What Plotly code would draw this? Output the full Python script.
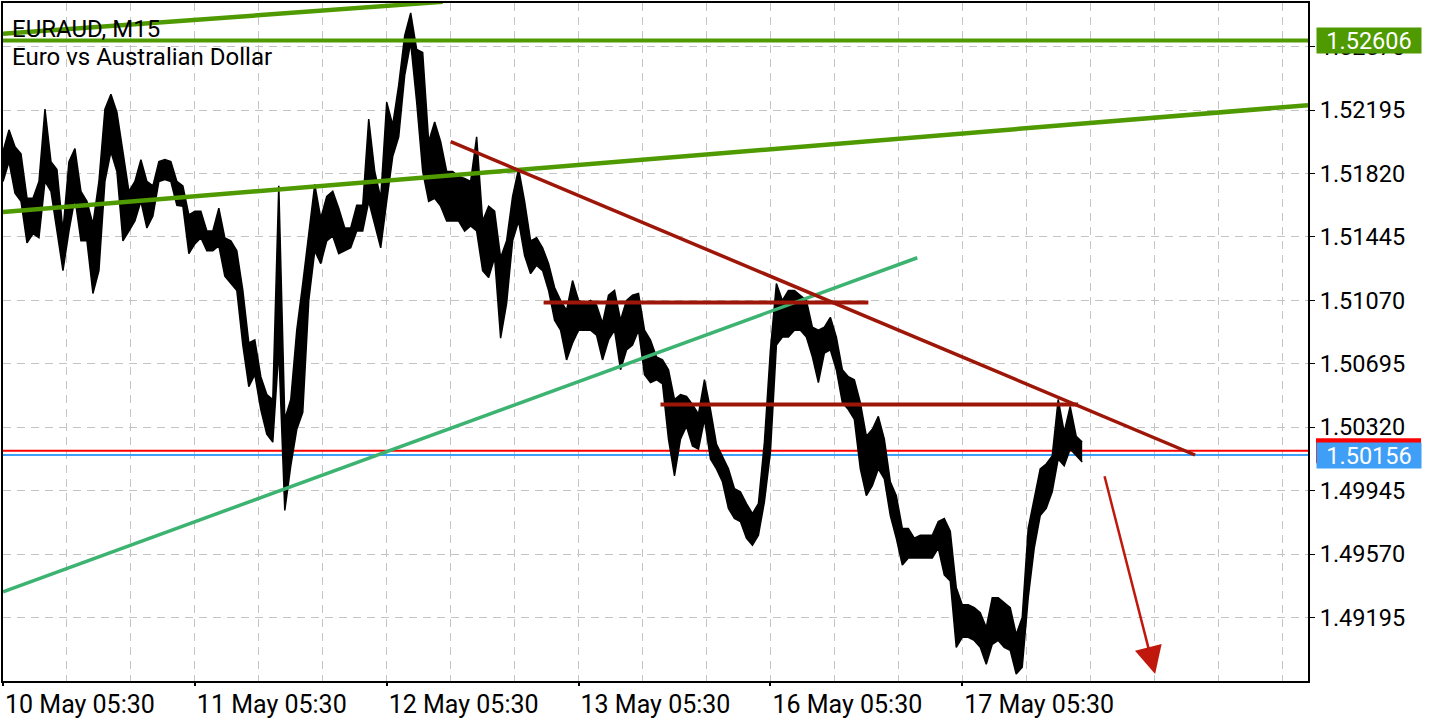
import plotly.graph_objects as go

symbol = "EURAUD, M15"
description = "Euro vs Australian Dollar"

bar_step = 3  # M15 bars per sample
highs = [
    1.51949, 1.52078, 1.51978, 1.51937, 1.51674, 1.51674, 1.51773, 1.52201, 1.51890, 1.51843,
    1.51480, 1.51890, 1.51967, 1.51715, 1.51656, 1.51521, 1.51773, 1.52201, 1.52289, 1.52183,
    1.51949, 1.51715, 1.51773, 1.51902, 1.51773, 1.51747, 1.51890, 1.51902, 1.51890, 1.51773,
    1.51747, 1.51576, 1.51597, 1.51597, 1.51480, 1.51480, 1.51615, 1.51440, 1.51422, 1.51363,
    1.51129, 1.50818, 1.50836, 1.50619, 1.50513, 1.50484, 1.51747, 1.50367, 1.50484, 1.50894,
    1.51170, 1.51468, 1.51756, 1.51556, 1.51685, 1.51715, 1.51615, 1.51498, 1.51498, 1.51632,
    1.51632, 1.52142, 1.51832, 1.51674, 1.52242, 1.52107, 1.52342, 1.52635, 1.52769, 1.52553,
    1.52535, 1.52008, 1.52125, 1.52008, 1.51832, 1.51832, 1.51803, 1.51791, 1.51773, 1.52037,
    1.51539, 1.51627, 1.51597, 1.51322, 1.51422, 1.51685, 1.51849, 1.51656, 1.51422, 1.51440,
    1.51381, 1.51287, 1.51146, 1.51070, 1.51011, 1.51187, 1.51070, 1.51052, 1.51070, 1.51041,
    1.50935, 1.51101, 1.51129, 1.50953, 1.51070, 1.51101, 1.51111, 1.50894, 1.50836, 1.50736,
    1.50718, 1.50660, 1.50484, 1.50513, 1.50502, 1.50455, 1.50397, 1.50601, 1.50425, 1.50220,
    1.50150, 1.50074, 1.49957, 1.49939, 1.49869, 1.49810, 1.49869, 1.50232, 1.50777, 1.51170,
    1.51070, 1.51129, 1.51129, 1.51101, 1.51070, 1.50912, 1.50894, 1.50912, 1.50970, 1.50853,
    1.50660, 1.50619, 1.50601, 1.50466, 1.50267, 1.50308, 1.50384, 1.50250, 1.49998, 1.49916,
    1.49722, 1.49722, 1.49664, 1.49681, 1.49681, 1.49681, 1.49763, 1.49781, 1.49705, 1.49371,
    1.49271, 1.49271, 1.49254, 1.49224, 1.49136, 1.49312, 1.49312, 1.49283, 1.49254, 1.49095,
    1.49195, 1.49722, 1.49898, 1.50074, 1.50103, 1.50150, 1.50484, 1.50291, 1.50443, 1.50267,
    1.50232,
]
lows = [
    1.51773, 1.51890, 1.51703, 1.51656, 1.51410, 1.51464, 1.51440, 1.51773, 1.51715, 1.51480,
    1.51246, 1.51480, 1.51674, 1.51422, 1.51422, 1.51111, 1.51246, 1.51773, 1.51949, 1.51832,
    1.51422, 1.51480, 1.51539, 1.51656, 1.51498, 1.51569, 1.51773, 1.51785, 1.51773, 1.51632,
    1.51627, 1.51346, 1.51404, 1.51440, 1.51363, 1.51363, 1.51393, 1.51213, 1.51170, 1.51129,
    1.50806, 1.50560, 1.50631, 1.50425, 1.50279, 1.50232, 1.50777, 1.49828, 1.50092, 1.50308,
    1.50408, 1.51070, 1.51363, 1.51287, 1.51422, 1.51451, 1.51346, 1.51363, 1.51381, 1.51480,
    1.51480, 1.51656, 1.51521, 1.51381, 1.51656, 1.51920, 1.52037, 1.52400, 1.52594, 1.52242,
    1.51832, 1.51656, 1.51674, 1.51627, 1.51539, 1.51539, 1.51539, 1.51480, 1.51510, 1.51480,
    1.51246, 1.51205, 1.51322, 1.50847, 1.51052, 1.51422, 1.51539, 1.51335, 1.51228, 1.51277,
    1.51246, 1.51129, 1.50953, 1.50894, 1.50718, 1.50818, 1.50894, 1.50894, 1.50894, 1.50865,
    1.50718, 1.50836, 1.50894, 1.50660, 1.50777, 1.50806, 1.50894, 1.50631, 1.50584, 1.50601,
    1.50577, 1.50250, 1.50033, 1.50250, 1.50326, 1.50209, 1.50191, 1.50367, 1.50133, 1.50074,
    1.49998, 1.49840, 1.49781, 1.49763, 1.49664, 1.49623, 1.49681, 1.49880, 1.50173, 1.50806,
    1.50853, 1.50853, 1.50894, 1.50894, 1.50853, 1.50736, 1.50584, 1.50759, 1.50777, 1.50660,
    1.50466, 1.50425, 1.50367, 1.50074, 1.49916, 1.49974, 1.50074, 1.50015, 1.49798, 1.49664,
    1.49505, 1.49547, 1.49547, 1.49547, 1.49547, 1.49547, 1.49605, 1.49447, 1.49412, 1.49019,
    1.49078, 1.49078, 1.49060, 1.49019, 1.48919, 1.49037, 1.49060, 1.49019, 1.49001, 1.48861,
    1.48902, 1.49312, 1.49605, 1.49798, 1.49840, 1.49939, 1.50133, 1.50092, 1.50191, 1.50150,
    1.50115,
]
bars = list(range(0, bar_step * len(highs), bar_step))

date_ticks = [0, 96, 192, 288, 384, 480]
date_labels = ["10 May 05:30", "11 May 05:30", "12 May 05:30",
               "13 May 05:30", "16 May 05:30", "17 May 05:30"]
price_ticks = [1.49195, 1.49570, 1.49945, 1.50320, 1.50695,
               1.51070, 1.51445, 1.51820, 1.52195, 1.52570]

bid = 1.50156
ask = 1.50181
green_level = 1.52606

# user-drawn objects: (bar indices, prices)
channel_main_x, channel_main_y = [0, 653], [1.51592, 1.52224]
channel_top_x, channel_top_y = [0, 220], [1.52646, 1.52835]
support_x, support_y = [0, 457.5], [1.49347, 1.51322]
resist_x, resist_y = [224, 596.5], [1.52008, 1.50156]
level1_x, level1_y = [270.5, 433], [1.51058, 1.51058]
level2_x, level2_y = [329, 538], [1.50455, 1.50455]
arrow_tail = (551, 1.50039)
arrow_head = (576.5, 1.48861)

X_RANGE = [0, 653]
Y_RANGE = [1.48820, 1.52828]

GREEN = "#4e9a00"
SEA = "#3cb371"
DARKRED = "#9e1608"
GRID = "#c4c4c4"
BLUE = "#3f9ef5"
FONT = "Roboto"

fig = go.Figure()

# bid / ask lines (background)
fig.add_trace(go.Scatter(x=X_RANGE, y=[ask, ask], mode="lines",
                         line=dict(color="#ff0000", width=2), hoverinfo="skip"))
fig.add_trace(go.Scatter(x=X_RANGE, y=[bid, bid], mode="lines",
                         line=dict(color=BLUE, width=2), hoverinfo="skip"))

# price series (high/low band)
fig.add_trace(go.Scatter(x=bars, y=lows, mode="lines",
                         line=dict(color="black", width=1.5), hoverinfo="skip"))
fig.add_trace(go.Scatter(x=bars, y=highs, mode="lines", fill="tonexty",
                         fillcolor="black",
                         line=dict(color="black", width=1.5), hoverinfo="skip"))

# drawn lines
fig.add_trace(go.Scatter(x=X_RANGE, y=[green_level, green_level], mode="lines",
                         line=dict(color=GREEN, width=4), hoverinfo="skip"))
fig.add_trace(go.Scatter(x=channel_main_x, y=channel_main_y, mode="lines",
                         line=dict(color=GREEN, width=4.5), hoverinfo="skip"))
fig.add_trace(go.Scatter(x=channel_top_x, y=channel_top_y, mode="lines",
                         line=dict(color=GREEN, width=4.5), hoverinfo="skip"))
fig.add_trace(go.Scatter(x=support_x, y=support_y, mode="lines",
                         line=dict(color=SEA, width=3.5), hoverinfo="skip"))
fig.add_trace(go.Scatter(x=resist_x, y=resist_y, mode="lines",
                         line=dict(color=DARKRED, width=3.5), hoverinfo="skip"))
fig.add_trace(go.Scatter(x=level1_x, y=level1_y, mode="lines",
                         line=dict(color=DARKRED, width=4), hoverinfo="skip"))
fig.add_trace(go.Scatter(x=level2_x, y=level2_y, mode="lines",
                         line=dict(color=DARKRED, width=4), hoverinfo="skip"))

# ask price tag (mostly hidden behind the bid tag, as in the terminal)
shapes = [
    dict(type="rect", xref="paper", yref="y", xsizemode="pixel", ysizemode="pixel",
         xanchor=1, yanchor=ask, x0=8, x1=113, y0=-12.5, y1=12.5,
         fillcolor="#ff0000", line=dict(width=0), layer="above"),
]

annotations = [
    dict(xref="paper", yref="paper", x=0.0054, y=0.962, xanchor="left", yanchor="middle",
         text=symbol, showarrow=False, font=dict(family=FONT, size=24, color="black")),
    dict(xref="paper", yref="paper", x=0.0054, y=0.921, xanchor="left", yanchor="middle",
         text=description, showarrow=False, font=dict(family=FONT, size=24, color="black")),
    # arrow
    dict(x=arrow_head[0], y=arrow_head[1], ax=arrow_tail[0], ay=arrow_tail[1],
         xref="x", yref="y", axref="x", ayref="y", text="", showarrow=True,
         arrowhead=2, arrowsize=2.2, arrowwidth=2.5, arrowcolor="#c0180c"),
    # price labels
    dict(xref="paper", yref="y", x=1, y=green_level, xanchor="left", yanchor="middle",
         xshift=8, text=f"{green_level:.5f}", showarrow=False, bgcolor=GREEN,
         width=100, height=21, borderpad=2,
         font=dict(family=FONT, size=23.5, color="white")),
    dict(xref="paper", yref="y", x=1, y=bid, xanchor="left", yanchor="middle",
         xshift=8, text=f"{bid:.5f}", showarrow=False, bgcolor=BLUE,
         width=100, height=21, borderpad=2,
         font=dict(family=FONT, size=23.5, color="white")),
]

fig.update_layout(
    width=1440, height=720,
    margin=dict(l=2, r=132, t=1, b=36),
    paper_bgcolor="white", plot_bgcolor="white",
    showlegend=False,
    font=dict(family=FONT, size=22, color="black"),
    annotations=annotations,
    shapes=shapes,
    xaxis=dict(
        range=X_RANGE, tickmode="array", tickvals=date_ticks, ticktext=date_labels,
        ticks="outside", ticklen=3, tickwidth=2, tickcolor="black",
        ticklabelposition="outside right",
        tickfont=dict(family=FONT, size=25, color="black"),
        showgrid=True, gridcolor=GRID, griddash="8px,6px", gridwidth=1,
        minor=dict(tickmode="linear", tick0=0, dtick=32, showgrid=True,
                   gridcolor=GRID, griddash="8px,6px", gridwidth=1, ticks=""),
        showline=True, linecolor="black", linewidth=2, mirror=True,
        zeroline=False, fixedrange=True,
    ),
    yaxis=dict(
        range=Y_RANGE, side="right", tickmode="array", tickvals=price_ticks,
        ticktext=[f"{v:.5f}" for v in price_ticks],
        ticks="outside", ticklen=5, tickwidth=1, tickcolor="black",
        tickfont=dict(family=FONT, size=23.5, color="black"),
        showgrid=True, gridcolor=GRID, griddash="8px,6px", gridwidth=1,
        showline=True, linecolor="black", linewidth=2, mirror=True,
        zeroline=False, fixedrange=True,
    ),
)

fig.write_html("out.html", config={"displayModeBar": False},
               post_script="document.body.style.margin='0';document.body.style.overflow='hidden';")
